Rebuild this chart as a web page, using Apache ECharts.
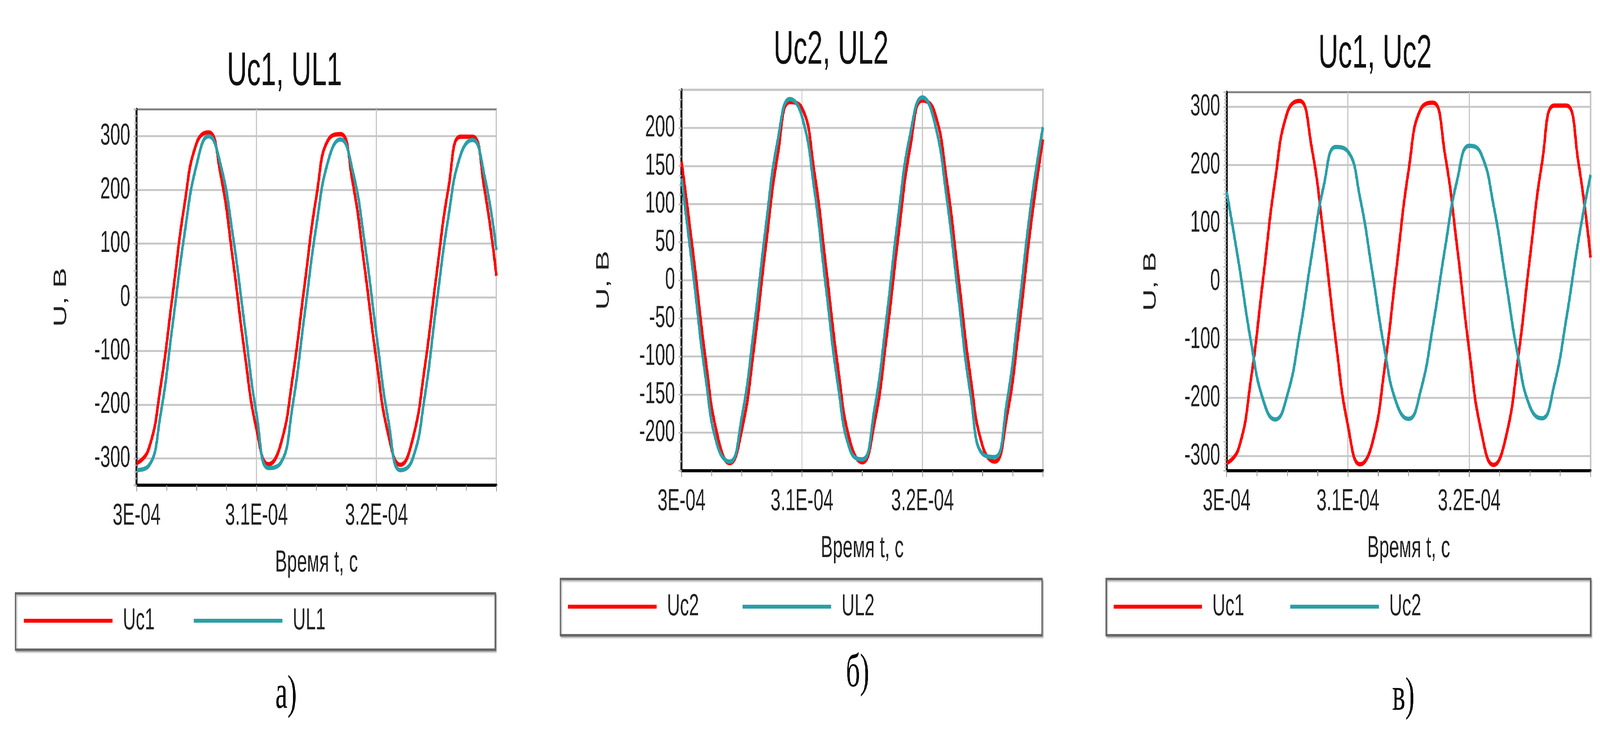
<!DOCTYPE html>
<html><head><meta charset="utf-8">
<script src="https://cdn.jsdelivr.net/npm/echarts@6/dist/echarts.min.js"></script>
<style>html,body{margin:0;padding:0;background:#fff;overflow:hidden;}
#wrap{position:absolute;left:0;top:0;width:6956px;height:1925px;transform-origin:0 0;}
.c{position:absolute;left:0;top:0;width:6956px;height:1925px;}</style>
</head><body>
<div id="wrap"><div id="c0" class="c"></div><div id="c1" class="c"></div><div id="c2" class="c"></div></div>
<script>
// time samples, s
const timeS = [3.00e-4,3.01e-4,3.02e-4,3.03e-4,3.04e-4,3.05e-4,3.06e-4,3.07e-4,3.08e-4,3.09e-4,3.10e-4,3.11e-4,3.12e-4,3.13e-4,3.14e-4,3.15e-4,3.16e-4,3.17e-4,3.18e-4,3.19e-4,3.20e-4,3.21e-4,3.22e-4,3.23e-4,3.24e-4,3.25e-4,3.26e-4,3.27e-4,3.28e-4,3.29e-4,3.30e-4];
// panel a
const uc1A = [-309,-283,-166,4,174,287,307,229,75,-102,-246,-311,-275,-151,22,189,294,304,216,58,-118,-257,-312,-266,-135,41,203,299,299,202,40];
const ul1A = [-322,-314,-218,-51,119,247,300,247,119,-51,-218,-318,-309,-203,-33,135,256,294,237,104,-70,-231,-322,-302,-189,-14,150,264,293,227,88];
// panel b
const uc2B = [156,31,-104,-205,-240,-197,-91,45,166,234,226,145,17,-116,-212,-239,-189,-78,58,176,236,221,133,3,-128,-218,-238,-180,-65,72,185];
const ul2B = [134,4,-128,-218,-238,-180,-65,71,185,238,215,122,-11,-139,-223,-235,-171,-52,85,193,240,208,110,-24,-151,-228,-232,-161,-38,98,201];
// panel c
const uc1C = [-312,-286,-168,4,175,290,310,231,76,-103,-248,-314,-278,-152,23,191,296,307,218,59,-119,-259,-315,-269,-136,41,204,302,302,204,41];
const uc2C = [154,31,-103,-203,-237,-195,-90,44,164,231,223,143,17,-115,-209,-236,-187,-77,57,174,233,218,131,3,-126,-215,-235,-178,-64,71,183];
const xTickLabels = {300:'3E-04',310:'3.1E-04',320:'3.2E-04'};
const titles = ['Uc1, UL1','Uc2, UL2','Uc1, Uc2'];
const seriesNames = [['Uc1','UL1'],['Uc2','UL2'],['Uc1','Uc2']];
const seriesData = [[uc1A,ul1A],[uc2B,ul2B],[uc1C,uc2C]];
const panelLetters = ['а)','б)','в)'];
const yAxes = [
  {min:-350,max:350,interval:50,labelStep:100,split:['rgba(0,0,0,0)','#c8c8c8']},
  {min:-250,max:250,interval:50,labelStep:50,labelMax:200,split:['#c8c8c8']},
  {min:-325,max:325,interval:25,labelStep:100,split:['rgba(0,0,0,0)','#c8c8c8','rgba(0,0,0,0)','rgba(0,0,0,0)']}
];
const layout = [
  {gl:594,gw:1564,gt:280,gh:962,tx:1232,ty:120,box:[67,1519,2086,144],lx:104,ly:1550,lgap:170,px:1197,py:1720,yGap:290},
  {gl:2963,gw:1571,gt:230,gh:975,tx:3608,ty:65,box:[2436,1482,2094,144],lx:2470,ly:1514,lgap:190,px:3678,py:1665,yGap:300},
  {gl:5333,gw:1582,gt:236,gh:969,tx:5973,ty:75,box:[4809,1482,2106,144],lx:4841,ly:1514,lgap:200,px:6053,py:1725,yGap:292}
];
const colors = ['#ff0000','#2a9fa8'];
const NF = '"Liberation Sans Narrow","Liberation Sans",Arial,sans-serif';
const wrap = document.getElementById('wrap');
wrap.style.transform = 'scale(' + (window.innerWidth/6956) + ',' + (window.innerHeight/1925) + ')';
for (let i=0;i<3;i++){
  const L = layout[i], Y = yAxes[i];
  const ch = echarts.init(document.getElementById('c'+i), null, {width:6956, height:1925});
  ch.setOption({
    animation:false,
    title:{text:titles[i],left:L.tx,top:L.ty,textAlign:'center',textStyle:{fontFamily:'"Liberation Sans",Arial',fontWeight:'normal',fontSize:120,color:'#111'}},
    grid:{left:L.gl,top:L.gt,width:L.gw,height:L.gh,show:true,borderColor:'#808080',borderWidth:5,backgroundColor:'#fff'},
    xAxis:{type:'value',min:3.0e-4,max:3.3e-4,interval:1e-5,
      name:'Время t, с',nameLocation:'middle',nameGap:160,nameTextStyle:{fontFamily:NF,fontSize:78,color:'#222'},
      axisLine:{onZero:false,lineStyle:{color:'#000',width:8}},
      axisTick:{show:true,length:16,lineStyle:{color:'#999',width:4}},
      minorTick:{show:true,splitNumber:4,length:14,lineStyle:{color:'#999',width:4}},
      axisLabel:{margin:40,fontFamily:NF,fontSize:78,color:'#222',formatter:v=>xTickLabels[Math.round(v*1e6)]||''},
      splitLine:{show:true,lineStyle:{color:'#c8c8c8',width:5}}},
    yAxis:{type:'value',min:Y.min,max:Y.max,interval:Y.interval,
      name:'U, В',nameLocation:'middle',nameGap:L.yGap,nameTextStyle:{fontFamily:NF,fontSize:78,color:'#222'},
      axisLine:{show:true,onZero:false,lineStyle:{color:'#000',width:8}},
      axisTick:{show:true,length:14,lineStyle:{color:'#bbb',width:4}},
      minorTick:{show:true,splitNumber:4,length:10,lineStyle:{color:'#bbb',width:4}},
      axisLabel:{margin:28,fontFamily:NF,fontSize:78,color:'#222',formatter:v=>{
        if (Y.labelMax!==undefined && Math.abs(v)>Y.labelMax) return '';
        return (Math.round(v)%Y.labelStep===0)?String(Math.round(v)):'';}},
      splitLine:{show:true,lineStyle:{color:Y.split,width:5}}},
    legend:{left:L.lx,top:L.ly,padding:0,itemWidth:385,itemHeight:10,itemGap:L.lgap,icon:'rect',
      textStyle:{fontFamily:NF,fontSize:78,color:'#222',padding:[0,0,0,40]},data:seriesNames[i]},
    graphic:[
      {type:'rect',z:-1,shape:{x:L.box[0],y:L.box[1],width:L.box[2],height:L.box[3]},style:{fill:'#fff',stroke:'#666',lineWidth:6,shadowColor:'rgba(0,0,0,0.3)',shadowOffsetX:4,shadowOffsetY:4,shadowBlur:4}},
      {type:'text',left:L.px,top:L.py,style:{text:panelLetters[i],font:'120px "Liberation Serif","Times New Roman",serif',fill:'#000'}}
    ],
    series:[0,1].map(s=>({type:'line',name:seriesNames[i][s],smooth:true,symbol:'none',
      lineStyle:{color:colors[s],width:11},itemStyle:{color:colors[s]},
      data:timeS.map((t,k)=>[t,seriesData[i][s][k]])}))
  });
}
</script></body></html>
